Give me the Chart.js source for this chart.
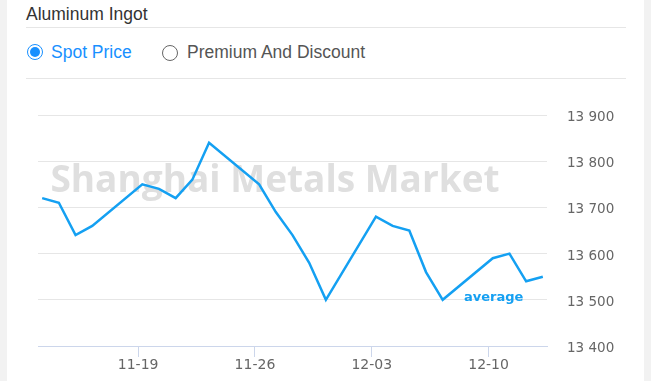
<!DOCTYPE html>
<html>
<head>
<meta charset="utf-8">
<script src="https://cdn.jsdelivr.net/npm/chart.js@4/dist/chart.umd.min.js"></script>
<style>
  html, body { margin: 0; padding: 0; }
  body { width: 651px; height: 381px; background: #f2f2f2; position: relative; overflow: hidden; font-family: "Liberation Sans", Arial, sans-serif; }
  #card { position: absolute; left: 7px; top: 0; width: 637px; height: 381px; background: #fff; }
  .abs { position: absolute; white-space: nowrap; }
  #title { left: 26px; top: 4px; font-size: 17.5px; line-height: 20px; color: #333; }
  .divider { position: absolute; left: 26px; width: 600px; height: 1px; background: #e6e6e6; }
  .radio { position: absolute; width: 14px; height: 14px; border-radius: 50%; box-sizing: content-box; }
  #r1 { left: 27px; top: 44px; border: 1.5px solid #1890ff; }
  #r1::after { content: ""; position: absolute; left: 2px; top: 2px; width: 10px; height: 10px; border-radius: 50%; background: #1890ff; }
  #r2 { left: 162px; top: 45px; border: 1.2px solid #666; }
  #t1 { left: 51px; top: 42px; font-size: 17.5px; line-height: 20px; color: #1890ff; }
  #t2 { left: 187px; top: 42px; font-size: 17.5px; line-height: 20px; color: #555; }
  #chartWrap { position: absolute; left: 7px; top: 79px; width: 637px; height: 302px; }
</style>
</head>
<body>
<div id="card"></div>
<div id="title" class="abs">Aluminum Ingot</div>
<div class="divider" style="top:27px"></div>
<div id="r1" class="radio"></div>
<div id="t1" class="abs">Spot Price</div>
<div id="r2" class="radio"></div>
<div id="t2" class="abs">Premium And Discount</div>
<div class="divider" style="top:78px"></div>
<div id="chartWrap"><canvas id="c" width="637" height="302"></canvas></div>
<script>
// ---- data ----
const dates = ['2018-11-13','2018-11-14','2018-11-15','2018-11-16',
  '2018-11-19','2018-11-20','2018-11-21','2018-11-22','2018-11-23',
  '2018-11-26','2018-11-27','2018-11-28','2018-11-29','2018-11-30',
  '2018-12-03','2018-12-04','2018-12-05','2018-12-06','2018-12-07',
  '2018-12-10','2018-12-11','2018-12-12','2018-12-13'];
const prices = [13720,13710,13640,13660,
  13750,13740,13720,13760,13840,
  13750,13690,13640,13580,13500,
  13680,13660,13650,13560,13500,
  13590,13600,13540,13550];
const xTickDates = ['2018-11-19','2018-11-26','2018-12-03','2018-12-10'];
const xTickLabels = ['11-19','11-26','12-03','12-10'];
const yTicks = [13400,13500,13600,13700,13800,13900];
const watermarkText = 'Shanghai Metals Market';
const seriesLabel = 'average';

// ---- helpers ----
const DAY = 86400000;
const baseDate = Date.UTC(2018, 10, 19);
function dayIndex(s) { const p = s.split('-').map(Number); return (Date.UTC(p[0], p[1]-1, p[2]) - baseDate) / DAY; }
const POINT_TIME = 0.25; // data stamped at 06:00 of each day
const points = dates.map((d, i) => ({ x: dayIndex(d) + POINT_TIME, y: prices[i] }));
const tickDays = xTickDates.map(dayIndex);
function fmt(v) { const s = String(v); return s.slice(0, s.length - 3) + ' ' + s.slice(-3); }

const overlay = {
  id: 'overlay',
  beforeDatasetsDraw(chart) {
    const { ctx, chartArea } = chart;
    ctx.save();
    ctx.font = 'bold 37px "Open Sans"';
    ctx.fillStyle = '#dfdfdf';
    ctx.textAlign = 'center';
    ctx.textBaseline = 'alphabetic';
    ctx.fillText(watermarkText, chartArea.left + 237, chartArea.top + 77);
    ctx.restore();
  },
  afterDatasetsDraw(chart) {
    const { ctx, chartArea } = chart;
    ctx.save();
    ctx.font = 'bold 13px "DejaVu Sans"';
    ctx.fillStyle = '#16a0f2';
    ctx.textAlign = 'left';
    ctx.textBaseline = 'alphabetic';
    ctx.fillText(seriesLabel, chartArea.left + 426, chartArea.top + 186);
    ctx.restore();
  }
};

new Chart(document.getElementById('c'), {
  type: 'line',
  data: {
    datasets: [{
      label: seriesLabel,
      data: points,
      borderColor: '#14a0f2',
      borderWidth: 2.5,
      pointRadius: 0,
      tension: 0,
      fill: false
    }]
  },
  options: {
    responsive: false,
    animation: false,
    devicePixelRatio: 1,
    layout: { padding: { left: 31, top: 36, right: 0, bottom: 0 } },
    plugins: { legend: { display: false }, tooltip: { enabled: false } },
    scales: {
      x: {
        type: 'linear',
        min: -6,
        max: 24.5,
        afterFit(scale) { scale.height = 35; },
        afterBuildTicks(scale) { scale.ticks = tickDays.map(v => ({ value: v })); },
        grid: { drawOnChartArea: false, drawTicks: true, tickLength: 11, tickColor: '#ccd6eb', lineWidth: 1 },
        border: { display: true, color: '#ccd6eb', width: 1 },
        ticks: {
          autoSkip: false, maxRotation: 0, padding: 0,
          color: '#666', font: { family: '"DejaVu Sans"', size: 14 },
          callback: (v, i) => xTickLabels[i]
        }
      },
      y: {
        position: 'right',
        min: yTicks[0],
        max: yTicks[yTicks.length - 1],
        afterFit(scale) { scale.width = 97; },
        afterBuildTicks(scale) { scale.ticks = yTicks.map(v => ({ value: v })); },
        grid: { color: '#e6e6e6', lineWidth: 1, drawTicks: false },
        border: { display: false },
        ticks: {
          padding: 20,
          labelOffset: 2.5,
          color: '#666', font: { family: '"DejaVu Sans"', size: 13.5 },
          callback: v => fmt(v)
        }
      }
    }
  },
  plugins: [overlay]
});
</script>
</body>
</html>
